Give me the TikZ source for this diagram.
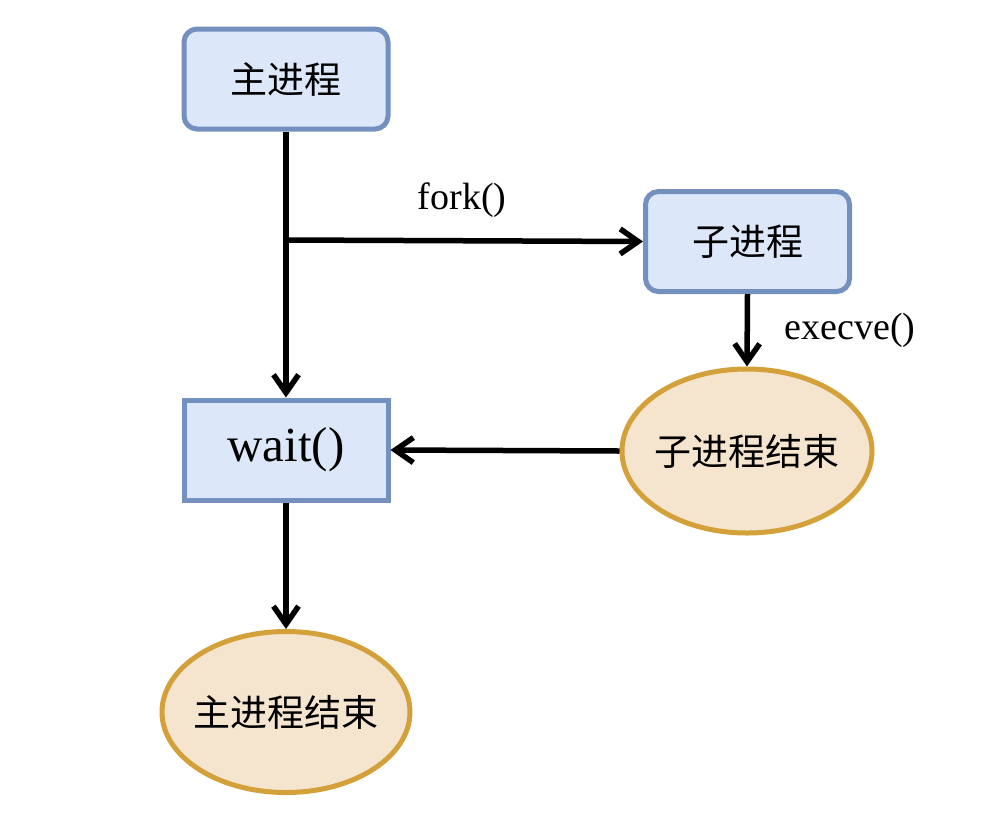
\documentclass[tikz,border=0pt]{standalone}
\usepackage{fontspec}
\setmainfont{Liberation Serif}
\newfontfamily\cjk{Noto Sans CJK SC}
\usepackage{xcolor}
\usetikzlibrary{arrows.meta,shapes.geometric}

\definecolor{procfill}{HTML}{DCE8FA}
\definecolor{procline}{HTML}{7390BE}
\definecolor{endfill}{HTML}{F5E5CE}
\definecolor{endline}{HTML}{D3A03A}

\tikzset{
    procbox/.style={draw=procline, fill=procfill, line width=5pt, rounded corners=13pt,
        minimum width=204pt, minimum height=100pt, font=\cjk\fontsize{37}{42}\selectfont},
    waitbox/.style={procbox, rounded corners=0pt, font=\fontsize{49}{54}\selectfont},
    endnode/.style={ellipse, draw=endline, fill=endfill, line width=5pt, inner ysep=0pt,
        inner xsep=-8pt, font=\cjk\fontsize{37}{42}\selectfont},
    flow/.style={line width=5.5pt, -{Straight Barb[length=18pt,width=25pt]}},
    flowlabel/.style={font=\fontsize{38}{42}\selectfont}
}

\begin{document}
\begin{tikzpicture}[x=1pt, y=-1pt]
    \useasboundingbox (0,0) rectangle (1004,820);

    % processes
    \node[procbox] (main) at (286,79) {主进程};
    \node[procbox] (child) at (747.5,241.5) {子进程};
    \node[waitbox] (wait) at (286,450) {wait()};
    \node[endnode, minimum width=250pt, minimum height=164pt] (childend) at (747,451) {子进程结束};
    \node[endnode, minimum width=248pt, minimum height=161pt] (mainend) at (286,712) {主进程结束};

    \coordinate (fork) at (286,240);

    % connectors
    \draw[flow] (main.south) -- (wait.north);
    \draw[flow] (fork) -- (child.west);
    \node[flowlabel] (forklabel) at (462,200) {fork()};
    \draw[flow] (child.south) -- (childend.north);
    \node[flowlabel] (execlabel) at (850,330) {execve()};
    \draw[flow] (childend.west) -- (wait.east);
    \draw[flow] (wait.south) -- (mainend.north);
\end{tikzpicture}
\end{document}
